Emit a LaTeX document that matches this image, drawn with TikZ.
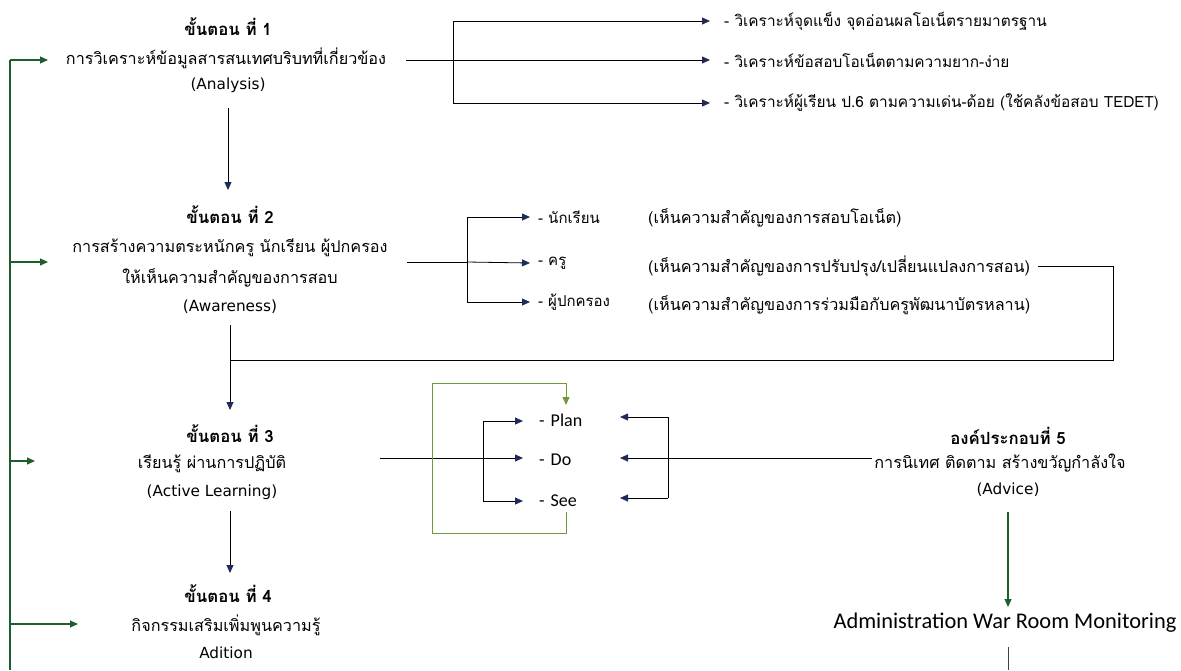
\documentclass[tikz,border=0pt]{standalone}
\usepackage{fontspec}
\newfontfamily\thf[Script=Thai]{Loma}
\newfontfamily\enf{Carlito}
\newfontfamily\dvf{DejaVu Sans}
\usetikzlibrary{arrows.meta}
\definecolor{navy}{HTML}{1F2A5A}
\definecolor{dgreen}{HTML}{1E5E2E}
\definecolor{olive}{HTML}{6E9A3C}
\begin{document}
\begin{tikzpicture}[x=1pt,y=-1pt,
  tt/.style={font=\thf\bfseries\fontsize{16.8}{19}\selectfont, inner sep=0},
  tb/.style={font=\thf\fontsize{16.2}{19}\selectfont, inner sep=0},
  te/.style={font=\dvf\fontsize{15.3}{18}\selectfont, inner sep=0},
  tr/.style={font=\thf\fontsize{15.4}{17}\selectfont, inner sep=0, anchor=west},
  tp/.style={font=\thf\fontsize{15}{17}\selectfont, inner sep=0, anchor=west},
  tq/.style={font=\thf\fontsize{16.2}{18}\selectfont, inner sep=0, anchor=west},
  en/.style={font=\enf\fontsize{18}{20}\selectfont, inner sep=0, anchor=west},
  ln/.style={line width=0.8pt, black},
  nv/.style={ln, -{Triangle[length=8pt,width=7pt,color=navy]}},
  gl/.style={line width=1.1pt, dgreen},
  gr/.style={gl, -{Triangle[length=8pt,width=7pt]}},
  ol/.style={line width=1pt, olive},
]
\useasboundingbox (0,0) rectangle (1181,670);
% ---------- Step 1
\node[tt] (s1a) at (228,27) {ขั้นตอน ที่ 1};
\node[tb] (s1b) at (226,58) {การวิเคราะห์ข้อมูลสารสนเทศบริบทที่เกี่ยวข้อง};
\node[te] (s1c) at (228,85) {(Analysis)};
\node[tr] (r1) at (724,21) {- วิเคราะห์จุดแข็ง  จุดอ่อนผลโอเน็ตรายมาตรฐาน};
\node[tr] (r2) at (724,60) {- วิเคราะห์ข้อสอบโอเน็ตตามความยาก-ง่าย};
\node[tr] (r3) at (724,103) {- วิเคราะห์ผู้เรียน ป.6 ตามความเด่น-ด้อย (ใช้คลังข้อสอบ TEDET)};
\coordinate (s1o) at (406,60);
\coordinate (b1) at (453,60);
\coordinate (b1t) at (453,21);
\coordinate (b1b) at (453,103);
\draw[ln] (s1o) -- (b1);
\draw[ln] (b1t) -- (b1b);
\draw[nv] (b1t) -- ([xshift=-14pt]r1.west);
\draw[nv] (b1) -- ([xshift=-14pt]r2.west);
\draw[nv] (b1b) -- ([xshift=-14pt]r3.west);
\coordinate (d1s) at (228,108);
\coordinate (d1e) at (228,190);
\draw[nv] (d1s) -- (d1e);
% ---------- Step 2
\node[tt] (s2a) at (230,215) {ขั้นตอน ที่ 2};
\node[tb] (s2b) at (230,248) {การสร้างความตระหนักครู  นักเรียน ผู้ปกครอง};
\node[tb] (s2c) at (230,278) {ให้เห็นความสำคัญของการสอบ};
\node[te] (s2d) at (230,307) {(Awareness)};
\node[tp] (p1) at (538,217) {- นักเรียน};
\node[tp] (p2) at (538,263) {- ครู};
\node[tp] (p3) at (538,302) {- ผู้ปกครอง};
\node[tq] (q1) at (648,218) {(เห็นความสำคัญของการสอบโอเน็ต)};
\node[tq] (q2) at (648,266) {(เห็นความสำคัญของการปรับปรุง/เปลี่ยนแปลงการสอน)};
\node[tq] (q3) at (648,305) {(เห็นความสำคัญของการร่วมมือกับครูพัฒนาบัตรหลาน)};
\coordinate (s2o) at (407,262);
\coordinate (b2) at (467,262);
\coordinate (b2t) at (467,217);
\coordinate (b2b) at (467,302);
\draw[ln] (s2o) -- (b2);
\draw[ln] (b2t) -- (b2b);
\draw[nv] (b2t) -- ([xshift=-8pt]p1.west);
\draw[nv] (b2) -- ([xshift=-8pt]p2.west);
\draw[nv] (b2b) -- ([xshift=-8pt]p3.west);
\coordinate (f1) at (1113,266);
\coordinate (f2) at (1113,360);
\coordinate (f3) at (230,360);
\draw[ln] ([xshift=8pt]q2.east) -- (f1) -- (f2) -- (f3);
\coordinate (d2s) at (230,325);
\coordinate (d2e) at (230,410);
\draw[nv] (d2s) -- (d2e);
% ---------- Step 3
\node[tt] (s3a) at (230,434) {ขั้นตอน ที่ 3};
\node[tb] (s3b) at (212,464) {เรียนรู้ ผ่านการปฏิบัติ};
\node[te] (s3c) at (212,492) {(Active Learning)};
\node[en] (k1) at (539,420) {-\hspace{6pt}Plan};
\node[en] (k2) at (539,460) {-\hspace{6pt}Do};
\node[en] (k3) at (539,501) {-\hspace{6pt}See};
\coordinate (s3o) at (380,458);
\coordinate (b3) at (483,458);
\coordinate (b3t) at (483,421);
\coordinate (b3b) at (483,501);
\draw[ln] (s3o) -- (b3);
\draw[ln] (b3t) -- (b3b);
\draw[nv] (b3t) -- ([xshift=-16pt]k1.west |- b3t);
\draw[nv] (b3) -- ([xshift=-16pt]k2.west |- b3);
\draw[nv] (b3b) -- ([xshift=-16pt]k3.west |- b3b);
% loop
\coordinate (l1) at (566,512);
\coordinate (l2) at (566,533);
\coordinate (l3) at (432,533);
\coordinate (l4) at (432,383);
\coordinate (l5) at (566,383);
\coordinate (l6) at (566,405);
\draw[ol] (l1) -- (l2) -- (l3) -- (l4) -- (l5);
\draw[ol, -{Triangle[length=8pt,width=7pt]}] (l5) -- (l6);
% from component 5
\coordinate (c5) at (668,458);
\coordinate (c5t) at (668,417);
\coordinate (c5b) at (668,498);
\coordinate (a1) at (620,417);
\coordinate (a2) at (620,458);
\coordinate (a3) at (620,498);
\draw[ln] (c5t) -- (c5b);
\draw[nv] (c5t) -- (a1);
\draw[nv] (c5) -- (a2);
\draw[nv] (c5b) -- (a3);
% ---------- Component 5
\node[tt] (m1) at (1008,436) {องค์ประกอบที่ 5};
\node[tb] (m2) at (1000,463) {การนิเทศ ติดตาม สร้างขวัญกำลังใจ};
\node[te] (m3) at (1008,490) {(Advice)};
\draw[ln] (c5) -- ([xshift=-2pt]m2.west |- c5);
\coordinate (d5s) at (1008,512);
\coordinate (d5e) at (1008,607);
\draw[gr] (d5s) -- (d5e);
\node[font=\enf\fontsize{22.4}{25}\selectfont, inner sep=0] (adm) at (1005,623) {Administration War Room Monitoring};
\coordinate (e5s) at (1008,647);
\coordinate (e5e) at (1008,670);
\draw[line width=1pt, black!75] (e5s) -- (e5e);
\coordinate (d3s) at (230,511);
\coordinate (d3e) at (230,573);
\draw[nv] (d3s) -- (d3e);
% ---------- Step 4
\node[tt] (s4a) at (228,594) {ขั้นตอน ที่ 4};
\node[tb] (s4b) at (226,625) {กิจกรรมเสริมเพิ่มพูนความรู้};
\node[te] (s4c) at (226,653) {Adition};
% ---------- left spine
\coordinate (sp1) at (10,60);
\coordinate (sp2) at (10,262);
\coordinate (sp3) at (10,461);
\coordinate (sp4) at (10,624);
\coordinate (spE) at (10,670);
\draw[gl] (sp1) -- (spE);
\coordinate (t1) at (48,60);
\coordinate (t2) at (48,262);
\coordinate (t3) at (35,461);
\coordinate (t4) at (78,624);
\draw[gr] (sp1) -- (t1);
\draw[gr] (sp2) -- (t2);
\draw[gr] (sp3) -- (t3);
\draw[gr] (sp4) -- (t4);
\end{tikzpicture}
\end{document}
